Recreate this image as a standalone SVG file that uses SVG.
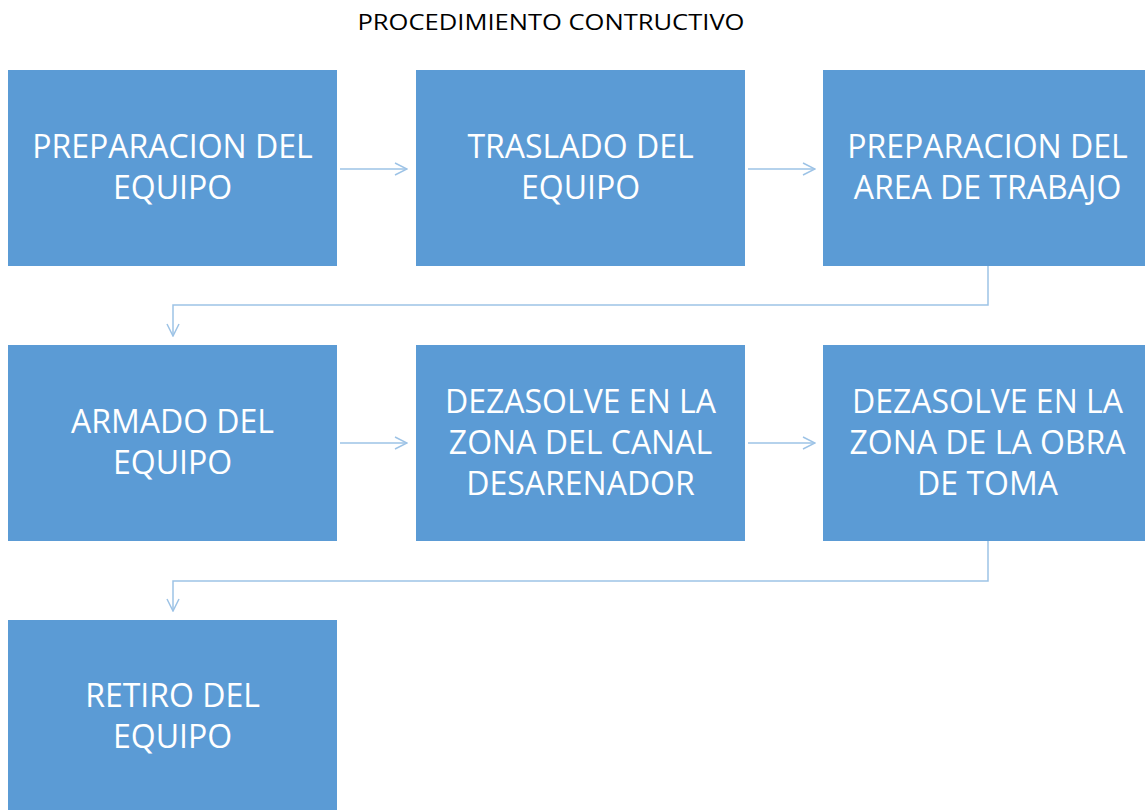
<svg xmlns="http://www.w3.org/2000/svg" width="1145" height="810" viewBox="0 0 1145 810">
<defs>
<style>
.box{fill:#5B9BD5;}
.t{fill:#ffffff;font-family:"Open Sans","Liberation Sans",sans-serif;font-size:32px;text-anchor:middle;}
.title{fill:#000000;font-family:"Open Sans","Liberation Sans",sans-serif;font-size:22px;text-anchor:middle;}
.c{fill:none;stroke:#9DC3E6;stroke-width:1.5;}
</style>
<marker id="ah" viewBox="0 0 14 14" refX="13" refY="7" markerWidth="14" markerHeight="14" markerUnits="userSpaceOnUse" orient="auto">
<path d="M1,1 L13,7 L1,13" fill="none" stroke="#9DC3E6" stroke-width="1.5"/>
</marker>
</defs>
<rect width="1145" height="810" fill="#ffffff"/>
<text class="title" x="551" y="30" textLength="387" lengthAdjust="spacingAndGlyphs">PROCEDIMIENTO CONTRUCTIVO</text>
<g id="connectors">
<path class="c" d="M340,169 H407" marker-end="url(#ah)"/>
<path class="c" d="M748,169 H815" marker-end="url(#ah)"/>
<path class="c" d="M988,266 V305 H173 V336" marker-end="url(#ah)"/>
<path class="c" d="M340,443 H407" marker-end="url(#ah)"/>
<path class="c" d="M748,443 H815" marker-end="url(#ah)"/>
<path class="c" d="M988,541 V581 H173 V611" marker-end="url(#ah)"/>
</g>
<g id="n1"><rect class="box" x="8" y="70" width="329" height="196"/><text class="t" x="172.5" y="158">PREPARACION DEL</text><text class="t" x="172.5" y="199">EQUIPO</text></g>
<g id="n2"><rect class="box" x="416" y="70" width="329" height="196"/><text class="t" x="580.5" y="158">TRASLADO DEL</text><text class="t" x="580.5" y="199">EQUIPO</text></g>
<g id="n3"><rect class="box" x="823" y="70" width="329" height="196"/><text class="t" x="987.5" y="158">PREPARACION DEL</text><text class="t" x="987.5" y="199">AREA DE TRABAJO</text></g>
<g id="n4"><rect class="box" x="8" y="345" width="329" height="196"/><text class="t" x="172.5" y="433">ARMADO DEL</text><text class="t" x="172.5" y="474">EQUIPO</text></g>
<g id="n5"><rect class="box" x="416" y="345" width="329" height="196"/><text class="t" x="580.5" y="413">DEZASOLVE EN LA</text><text class="t" x="580.5" y="454">ZONA DEL CANAL</text><text class="t" x="580.5" y="495">DESARENADOR</text></g>
<g id="n6"><rect class="box" x="823" y="345" width="329" height="196"/><text class="t" x="987.5" y="413">DEZASOLVE EN LA</text><text class="t" x="987.5" y="454">ZONA DE LA OBRA</text><text class="t" x="987.5" y="495">DE TOMA</text></g>
<g id="n7"><rect class="box" x="8" y="620" width="329" height="196"/><text class="t" x="172.5" y="707">RETIRO DEL</text><text class="t" x="172.5" y="748">EQUIPO</text></g>
</svg>
